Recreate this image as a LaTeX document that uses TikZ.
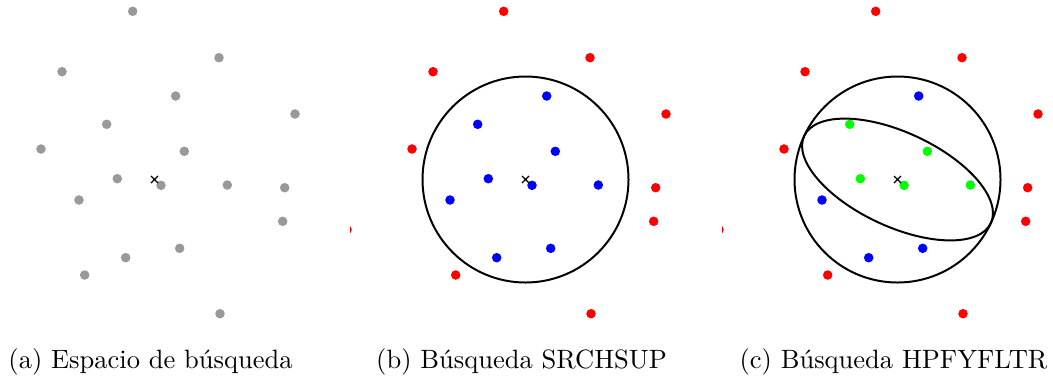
\documentclass[tikz,border=0pt]{standalone}
\usepackage{fontspec}
\usepackage{tikz}
\usetikzlibrary{shapes.misc,positioning}
\tikzset{
  punto/.style={circle, inner sep=0pt, minimum size=3.6pt},
  gris/.style={punto, fill=black!40},
  centro/.style={cross out, draw=black, line width=0.45pt,
    inner sep=0pt, minimum size=2.2pt},
  region/.style={draw=black, line width=0.75pt},
  titulo/.style={anchor=base, inner sep=0pt},
}
% numero / x / y / color en (b) / color en (c)
\def\puntos{1/132.7/11.3/red/red, 2/219/57.7/red/red, 3/62/71.7/red/red,
  4/175.7/96/blue/blue, 5/295/114/red/red, 6/106.7/124.3/blue/green,
  7/41/149/red/red, 8/184.3/151.3/blue/green, 9/117.3/178.7/blue/green,
  10/161/185.3/blue/green, 11/227.3/185/blue/green, 12/284.7/187.7/red/red,
  13/79/200/blue/blue, 14/282.7/221.3/red/red, 15/179.7/248.3/blue/blue,
  16/125.7/257.7/blue/blue, 17/84.7/275/red/red, 18/220/313.7/red/red,
  19/-24/229.7/red/red}

\begin{document}
\begin{tikzpicture}[x=0.3774pt, y=-0.3774pt]
  \useasboundingbox (0,0) rectangle (1053,382);

  % (a) espacio de busqueda
  \begin{scope}
    \begin{scope}
      \clip (-21,0) rectangle (330,330);
      \foreach \n/\x/\y/\cb/\cc in \puntos
        \node[gris] (a\n) at (\x,\y) {};
      \node[centro] (xa) at (154.5,179.5) {};
    \end{scope}
    \node[titulo] (ta) at (150.5,368) {(a) Espacio de búsqueda};
  \end{scope}

  % (b) SRCHSUP
  \begin{scope}[shift={(371,0)}]
    \begin{scope}
      \clip (-21,0) rectangle (330,330);
      \foreach \n/\x/\y/\cb/\cc in \puntos
        \node[punto, fill=\cb] (b\n) at (\x,\y) {};
      \node[centro] (xb) at (154.5,179.5) {};
      \draw[region] (xb.center) circle [radius=103];
    \end{scope}
    \node[titulo] (tb) at (150.5,368) {(b) Búsqueda SRCHSUP};
  \end{scope}

  % (c) HPFYFLTR
  \begin{scope}[shift={(743,0)}]
    \begin{scope}
      \clip (-21,0) rectangle (330,330);
      \foreach \n/\x/\y/\cb/\cc in \puntos
        \node[punto, fill=\cc] (c\n) at (\x,\y) {};
      \node[centro] (xc) at (154.5,179.5) {};
      \draw[region] (xc.center) circle [radius=103];
      \draw[region, rotate around={-25:(xc.center)}]
        (xc.center) ellipse [x radius=103, y radius=47];
    \end{scope}
    \node[titulo] (tc) at (150.5,368) {(c) Búsqueda HPFYFLTR};
  \end{scope}
\end{tikzpicture}
\end{document}
